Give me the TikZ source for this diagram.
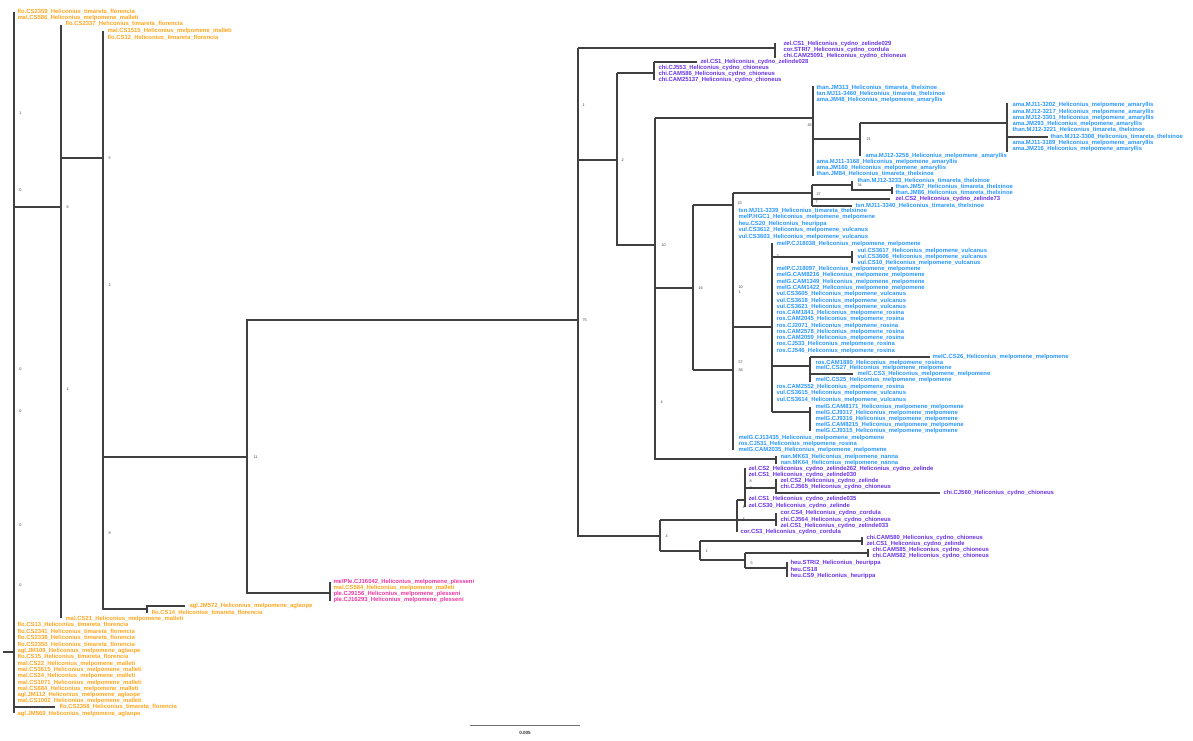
\documentclass[tikz,border=0pt]{standalone}
\usepackage{fontspec}
\setmainfont{Liberation Sans}
\definecolor{flo}{RGB}{255,165,30}
\definecolor{thx}{RGB}{40,150,255}
\definecolor{cyd}{RGB}{105,50,230}
\definecolor{ple}{RGB}{235,55,160}
\tikzset{
  br/.style={draw=black!75, line width=1.1pt},
  tip/.style={right, inner sep=0.3pt, font=\fontsize{5.9}{6}\selectfont\bfseries},
  bs/.style={right, inner sep=0.3pt, text=black!75, font=\fontsize{3.8}{4}\selectfont},
}
\newcommand{\Ht}{\_Heliconius\_timareta\_}
\newcommand{\Hm}{\_Heliconius\_melpomene\_}
\newcommand{\Hc}{\_Heliconius\_cydno\_}
\begin{document}
\begin{tikzpicture}[x=1pt,y=-1pt]
  \useasboundingbox (0,0) rectangle (1193,740);
  % florencia / malleti side
  \coordinate (L0) at (14,652); \coordinate (L1) at (61,207);
  \coordinate (L2) at (103,158); \coordinate (L3) at (247,457);
  \coordinate (L4) at (147,609); \coordinate (L5) at (330,593);
  \coordinate (R0) at (578,320);
  \draw[br] (3,652) -- (L0);
  \draw[br] (14,12) -- (14,713) (14,707) -- (55,707);
  \draw[br] (14,207) -- (L1) (61,25) -- (61,618);
  \draw[br] (61,158) -- (L2) (103,31) -- (103,609) -- (L4);
  \draw[br] (185,606) -- (147,606) -- (147,613);
  \draw[br] (103,457) -- (L3);
  \draw[br] (R0) -- (247,320) -- (247,593) -- (L5) (330,582) -- (330,601);
  \node[tip,flo] (f1) at (17,12) {flo.CS2359\Ht florencia};
  \node[tip,flo] (f2) at (17,18) {mal.CS586\Hm malleti};
  \node[tip,flo] (f3) at (65,24) {flo.CS2337\Ht florencia};
  \node[tip,flo] (f4) at (107,31) {mal.CS1515\Hm malleti};
  \node[tip,flo] (f5) at (107,38) {flo.CS12\Ht florencia};
  \node[tip,flo] (f6) at (189,606) {agl.JM572\Hm aglaope};
  \node[tip,flo] (f7) at (151,613) {flo.CS14\Ht florencia};
  \node[tip,flo] (f8) at (65,619) {mal.CS21\Hm malleti};
  \node[tip,flo] (f9) at (59,707) {flo.CS2358\Ht florencia};
  \foreach \y/\lab [count=\i] in {625/flo.CS13\Ht florencia, 632/flo.CS2341\Ht florencia,
      638/flo.CS2338\Ht florencia, 645/flo.CS2350\Ht florencia, 651/agl.JM108\Hm aglaope,
      657/flo.CS15\Ht florencia, 664/mal.CS22\Hm malleti, 670/mal.CS3615\Hm malleti,
      676/mal.CS24\Hm malleti, 683/mal.CS1071\Hm malleti, 689/mal.CS684\Hm malleti,
      695/agl.JM112\Hm aglaope, 701/mal.CS1002\Hm malleti, 714/agl.JM569\Hm aglaope}
    \node[tip,flo] (fb\i) at (17,\y) {\lab};
  \node[tip,ple] (p1) at (333,582) {melPle.CJ16042\Hm plesseni};
  \node[tip,flo] (p2) at (333,588) {mal.CS584\Hm malleti};
  \node[tip,ple] (p3) at (333,594) {ple.CJ9156\Hm plesseni};
  \node[tip,ple] (p4) at (333,600) {ple.CJ16293\Hm plesseni};
  \foreach \x/\y/\lab [count=\i] in {19/113/1, 19/190/0, 66/207/6, 108/158/5, 108/285/2,
      19/369/0, 66/389/1, 19/411/0, 253/457/11, 19/525/0, 108/533/8, 19/585/0}
    \node[bs] (lb\i) at (\x,\y) {\lab};

  % cydno / melpomene side
  \coordinate (N1) at (578,105); \coordinate (N2) at (617,160);
  \coordinate (N10) at (655,245); \coordinate (N16) at (693,288);
  \coordinate (N4) at (660,536);
  \draw[br] (578,48) -- (578,536) -- (N4);
  \draw[br] (578,48) -- (775,48) (775,43) -- (775,58);
  \draw[br] (N1) (578,160) -- (N2) (617,73) -- (617,245) -- (N10);
  \draw[br] (617,73) -- (654,73) (654,62) -- (654,80) (654,62) -- (697,62);
  \draw[br] (655,118) -- (655,459) -- (776,459) (776,456) -- (776,464);
  \draw[br] (655,118) -- (813,118) (813,86) -- (813,176);
  \draw[br] (813,139) -- (860,139) (860,123) -- (860,156);
  \draw[br] (860,123) -- (1007,123) (1007,103) -- (1007,152) (1007,137) -- (1048,137);
  \draw[br] (655,288) -- (N16) (693,205) -- (693,370);
  \draw[br] (693,205) -- (733,205) (693,370) -- (733,370) (733,193) -- (733,450);
  \draw[br] (733,193) -- (812,193) (812,185) -- (812,206);
  \draw[br] (812,185) -- (852,185) (852,181) -- (852,190) -- (892,190) (892,187) -- (892,194);
  \draw[br] (812,199) -- (890,199) (812,206) -- (852,206);
  \draw[br] (733,327) -- (772,327) (772,243) -- (772,412);
  \draw[br] (772,257) -- (852,257) (852,251) -- (852,263);
  \draw[br] (772,366) -- (810,366) (810,357) -- (810,382) (810,357) -- (930,357) (810,374) -- (853,374);
  \draw[br] (772,412) -- (810,412) (810,407) -- (810,431);
  \draw[br] (660,520) -- (660,551);
  \draw[br] (660,520) -- (737,520) (737,500) -- (737,532) (737,500) -- (745,500) (745,468) -- (745,507);
  \draw[br] (745,488) -- (776,488) (776,479) -- (776,493) -- (940,493);
  \draw[br] (737,520) -- (776,520) (776,513) -- (776,526);
  \draw[br] (660,551) -- (700,551) (700,541) -- (700,560);
  \draw[br] (700,541) -- (862,541) (862,537) -- (862,545);
  \draw[br] (700,560) -- (745,560) (745,553) -- (745,568);
  \draw[br] (745,553) -- (868,553) (868,549) -- (868,557);
  \draw[br] (745,568) -- (787,568) (787,562) -- (787,577);

  \foreach \x/\y/\lab [count=\i] in {783/44/zel.CS1\Hc zelinde029, 783/50/cor.STRI7\Hc cordula,
      783/56/chi.CAM25091\Hc chioneus, 700/62/zel.CS1\Hc zelinde028,
      658/68/chi.CJ553\Hc chioneus, 658/74/chi.CAM586\Hc chioneus, 658/80/chi.CAM25137\Hc chioneus,
      895/199/zel.CS2\Hc zelinde73,
      748/469/zel.CS2\Hc zelinde262\Hc zelinde, 748/475/zel.CS1\Hc zelinde030,
      780/481/zel.CS2\Hc zelinde, 780/487/chi.CJ565\Hc chioneus, 943/493/chi.CJ560\Hc chioneus,
      748/499/zel.CS1\Hc zelinde035, 748/506/zel.CS30\Hc zelinde,
      780/513/cor.CS4\Hc cordula, 780/520/chi.CJ564\Hc chioneus, 780/526/zel.CS1\Hc zelinde033,
      740/532/cor.CS3\Hc cordula, 866/538/chi.CAM580\Hc chioneus, 866/544/zel.CS1\Hc zelinde,
      872/550/chi.CAM585\Hc chioneus, 872/556/chi.CAM582\Hc chioneus,
      790/563/heu.STRI2\_Heliconius\_heurippa, 790/569/heu.CS18, 790/576/heu.CS9\_Heliconius\_heurippa}
    \node[tip,cyd] (c\i) at (\x,\y) {\lab};

  \foreach \x/\y/\lab [count=\i] in {816/88/than.JM313\Ht thelxinoe, 816/94/tan.MJ11-3460\Ht thelxinoe,
      816/100/ama.JM48\Hm amaryllis, 1012/105/ama.MJ11-3202\Hm amaryllis,
      1012/112/ama.MJ12-3217\Hm amaryllis, 1012/118/ama.MJ12-3301\Hm amaryllis,
      1012/124/ama.JM293\Hm amaryllis, 1012/130/than.MJ12-3221\Ht thelxinoe,
      1050/137/than.MJ12-3308\Ht thelxinoe, 1012/143/ama.MJ11-3189\Hm amaryllis,
      1012/149/ama.JM216\Hm amaryllis, 865/156/ama.MJ12-3258\Hm amaryllis,
      816/162/ama.MJ11-3168\Hm amaryllis, 816/168/ama.JM160\Hm amaryllis,
      816/174/than.JM84\Ht thelxinoe, 857/181/than.MJ12-3233\Ht thelxinoe,
      895/187/than.JM57\Ht thelxinoe, 895/193/than.JM86\Ht thelxinoe,
      855/206/tsn.MJ11-3340\Ht thelxinoe, 738/211/tsn.MJ11-3339\Ht thelxinoe,
      738/217/melP.HGC1\Hm melpomene, 738/224/heu.CS20\_Heliconius\_heurippa,
      738/230/vul.CS3612\Hm vulcanus, 738/237/vul.CS3603\Hm vulcanus,
      776/244/melP.CJ18038\Hm melpomene, 857/251/vul.CS3617\Hm vulcanus,
      857/257/vul.CS3606\Hm vulcanus, 857/263/vul.CS10\Hm vulcanus,
      776/269/melP.CJ18097\Hm melpomene, 776/275/melG.CAM8216\Hm melpomene,
      776/282/melG.CAM1349\Hm melpomene, 776/288/melG.CAM1422\Hm melpomene,
      776/294/vul.CS3605\Hm vulcanus, 776/301/vul.CS3618\Hm vulcanus,
      776/307/vul.CS3621\Hm vulcanus, 776/313/ros.CAM1841\Hm rosina,
      776/319/ros.CAM2045\Hm rosina, 776/326/ros.CJ2071\Hm rosina,
      776/332/ros.CAM2578\Hm rosina, 776/338/ros.CAM2059\Hm rosina,
      776/344/ros.CJ533\Hm rosina, 776/351/ros.CJ546\Hm rosina,
      932/357/melC.CS26\Hm melpomene, 815/363/ros.CAM1880\Hm rosina,
      815/368/melC.CS27\Hm melpomene, 857/374/melC.CS3\Hm melpomene,
      815/380/melC.CS25\Hm melpomene, 776/387/ros.CAM2552\Hm rosina,
      776/393/vul.CS3615\Hm vulcanus, 776/400/vul.CS3614\Hm vulcanus,
      815/407/melG.CAM8171\Hm melpomene, 815/413/melG.CJ9317\Hm melpomene,
      815/419/melG.CJ9316\Hm melpomene, 815/425/melG.CAM8215\Hm melpomene,
      815/431/melG.CJ9315\Hm melpomene, 738/438/melG.CJ13435\Hm melpomene,
      738/444/ros.CJ531\Hm rosina, 738/450/melG.CAM2035\Hm melpomene,
      780/457/nan.MK63\Hm nanna, 780/463/nan.MK64\Hm nanna}
    \node[tip,thx] (b\i) at (\x,\y) {\lab};

  \foreach \x/\y/\lab [count=\i] in {582/105/1, 621/160/2, 661/245/10, 698/288/16, 582/320/75,
      660/402/4, 737/203/23, 816/194/27, 815/202/7, 857/185/34, 866/139/21, 807/125/45,
      776/256/2, 738/287/10, 738/292/1, 738/362/57, 738/370/56, 665/536/4, 705/551/1,
      750/563/5, 742/507/1, 742/519/4, 749/481/8, 749/488/7}
    \node[bs] (rb\i) at (\x,\y) {\lab};

  % scale bar
  \draw[black!55, line width=0.6pt] (470,725) -- (580,725);
  \node[font=\fontsize{4.6}{5}\selectfont\bfseries, text=black!80] (scl) at (525,733) {0.005};
\end{tikzpicture}
\end{document}
